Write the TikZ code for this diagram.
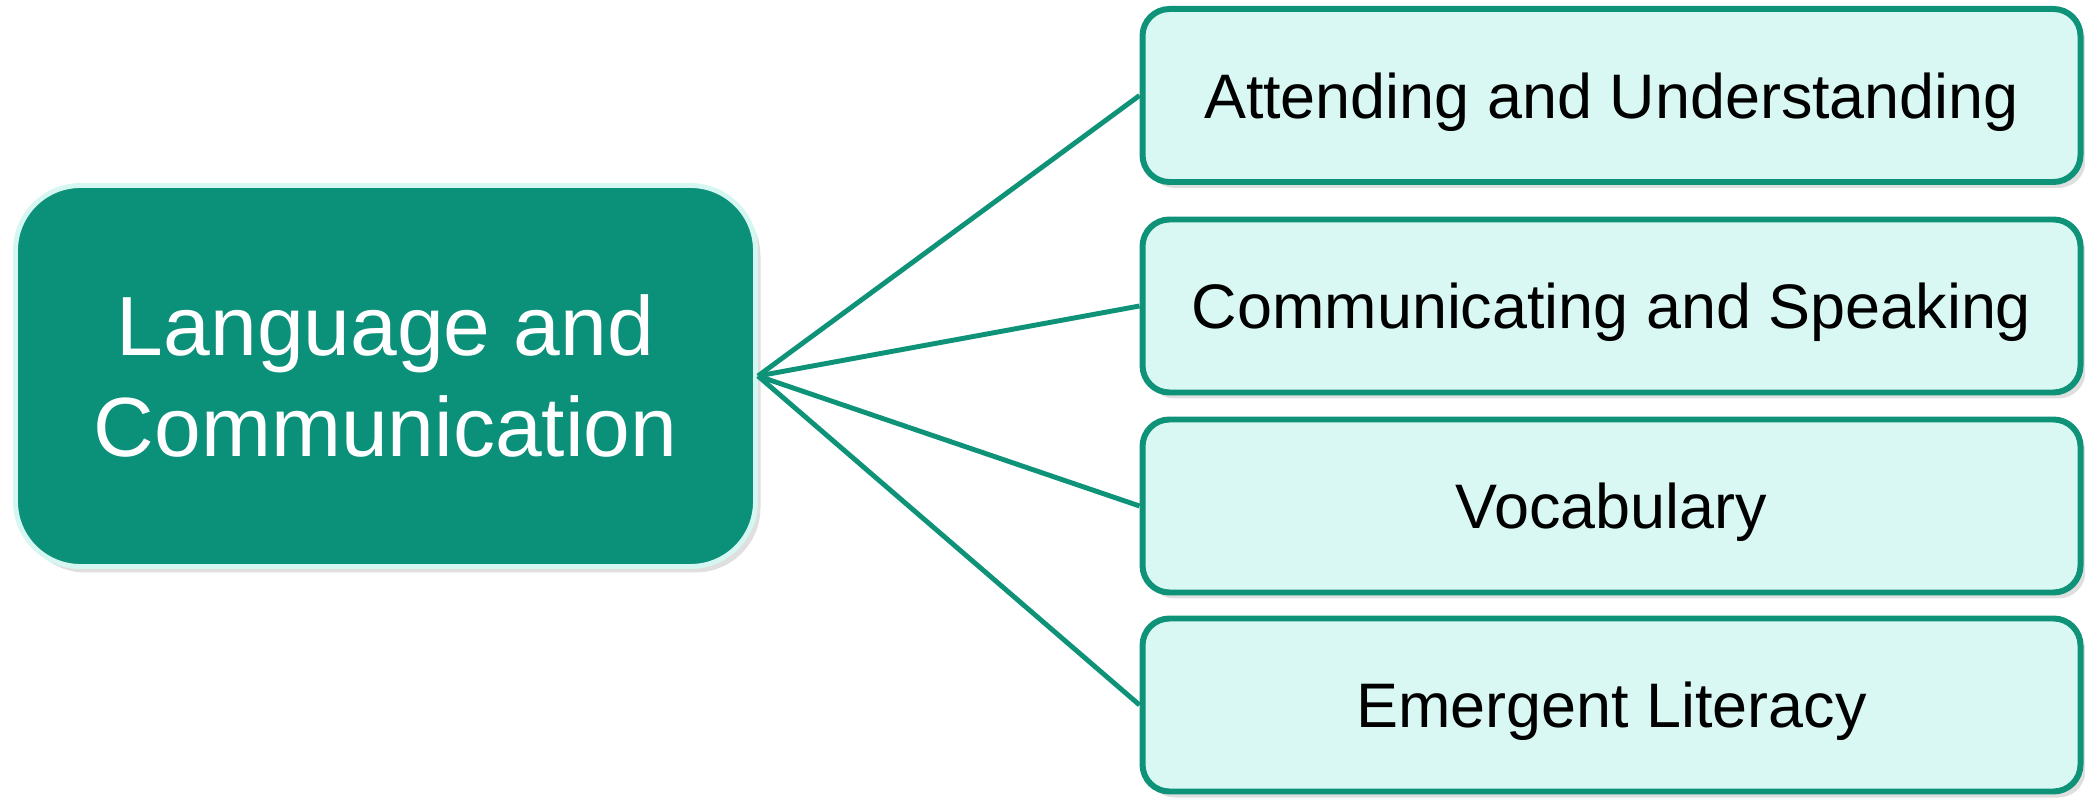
\documentclass[tikz,border=0pt]{standalone}
\usepackage{fontspec}
\setmainfont{Liberation Sans}
\usetikzlibrary{shadows}
\definecolor{tealdark}{HTML}{0B907A}
\definecolor{tealline}{HTML}{0E9379}
\definecolor{mintfill}{HTML}{D9F8F3}
\definecolor{mintlight}{HTML}{D6F7F1}
\tikzset{
    main-box/.style = {draw=mintlight, fill=tealdark, line width=1.4pt, rectangle, rounded corners=0.65cm, minimum width=7.40cm, minimum height=3.81cm, align=center, text=white, font=\fontsize{23.9}{28.6}\selectfont, drop shadow={shadow xshift=0.05cm, shadow yshift=-0.06cm, opacity=0.25}},
    topic-box/.style = {draw=tealline, fill=mintfill, line width=1.7pt, rectangle, rounded corners=0.27cm, minimum width=9.38cm, minimum height=1.73cm, text depth=0pt, text=black, font=\fontsize{17.9}{21.5}\selectfont, drop shadow={shadow xshift=0.05cm, shadow yshift=-0.06cm, opacity=0.25}},
    link/.style = {draw=tealline, line width=1.4pt},
}
\begin{document}
\begin{tikzpicture}
\useasboundingbox (0,0) rectangle (20.85,7.97);
\node [main-box] (main) at (3.855,4.21) {Language and\\Communication};
\node [topic-box] (attending) at (16.115,7.015) {Attending and Understanding};
\node [topic-box] (speaking) at (16.115,4.91) {Communicating and Speaking};
\node [topic-box] (vocabulary) at (16.115,2.91) {Vocabulary};
\node [topic-box] (literacy) at (16.115,0.92) {Emergent Literacy};
% connectors from the main box
\foreach \topic in {attending, speaking, vocabulary, literacy}
    \draw [link] (main.east) -- (\topic.west);
\end{tikzpicture}
\end{document}
